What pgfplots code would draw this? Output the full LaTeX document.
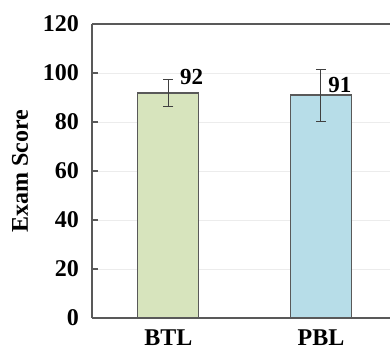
\documentclass[border=0pt]{standalone}
\usepackage{fontspec}
\setmainfont{Liberation Serif}
\usepackage{pgfplots}
\pgfplotsset{compat=1.18}
\definecolor{barG}{HTML}{D7E4BD}
\definecolor{barB}{HTML}{B7DDE8}
\definecolor{axgray}{HTML}{595959}
\begin{document}
\begin{tikzpicture}
\begin{axis}[
  scale only axis,
  width=149pt, height=147pt,
  xmin=-0.5, xmax=1.452,
  ymin=0, ymax=120,
  ytick={0,20,40,60,80,100,120},
  xtick={0,1}, xticklabels={BTL,PBL},
  axis x line*=bottom, axis y line*=left,
  axis line style={axgray, line width=0.8pt},
  x axis line style={-}, y axis line style={-},
  ymajorgrids, grid style={gray!15, line width=0.5pt},
  major x tick style={draw=none},
  major y tick style={axgray, line width=0.6pt},
  tick align=inside, major tick length=3pt,
  tick label style={font=\fontsize{12}{14}\selectfont\bfseries},
  /pgf/number format/assume math mode=true,
  ylabel={Exam Score},
  ylabel style={font=\fontsize{12}{14}\selectfont\bfseries, yshift=0.5pt},
  yticklabel style={xshift=-3pt},
  xticklabel style={yshift=0.5pt},
  ybar, bar width=30.5pt, bar shift=0pt,
  clip=false,
]
\addplot[fill=barG, draw=axgray, line width=0.6pt,
  error bars/.cd, y dir=both, y explicit,
  error bar style={black!75, line width=0.5pt},
  error mark options={rotate=90, mark size=2.5pt, black!75, line width=0.5pt}]
  coordinates {(0,91.8) +- (0,5.6)};
\addplot[fill=barB, draw=axgray, line width=0.6pt,
  error bars/.cd, y dir=both, y explicit,
  error bar style={black!75, line width=0.5pt},
  error mark options={rotate=90, mark size=2.5pt, black!75, line width=0.5pt}]
  coordinates {(1,91.0) +- (0,10.6)};
\draw[axgray, line width=0.8pt] (rel axis cs:0,1) -- (rel axis cs:1,1);
\node[anchor=west, inner sep=0pt, font=\fontsize{11.5}{13}\selectfont\bfseries] at (axis cs:0.075,98.4) {92};
\node[anchor=west, inner sep=0pt, font=\fontsize{11.5}{13}\selectfont\bfseries] at (axis cs:1.046,95.1) {91};
\end{axis}
\pgfresetboundingbox
\useasboundingbox (-46pt,-16pt) rectangle (149pt,159pt);
\end{tikzpicture}
\end{document}
